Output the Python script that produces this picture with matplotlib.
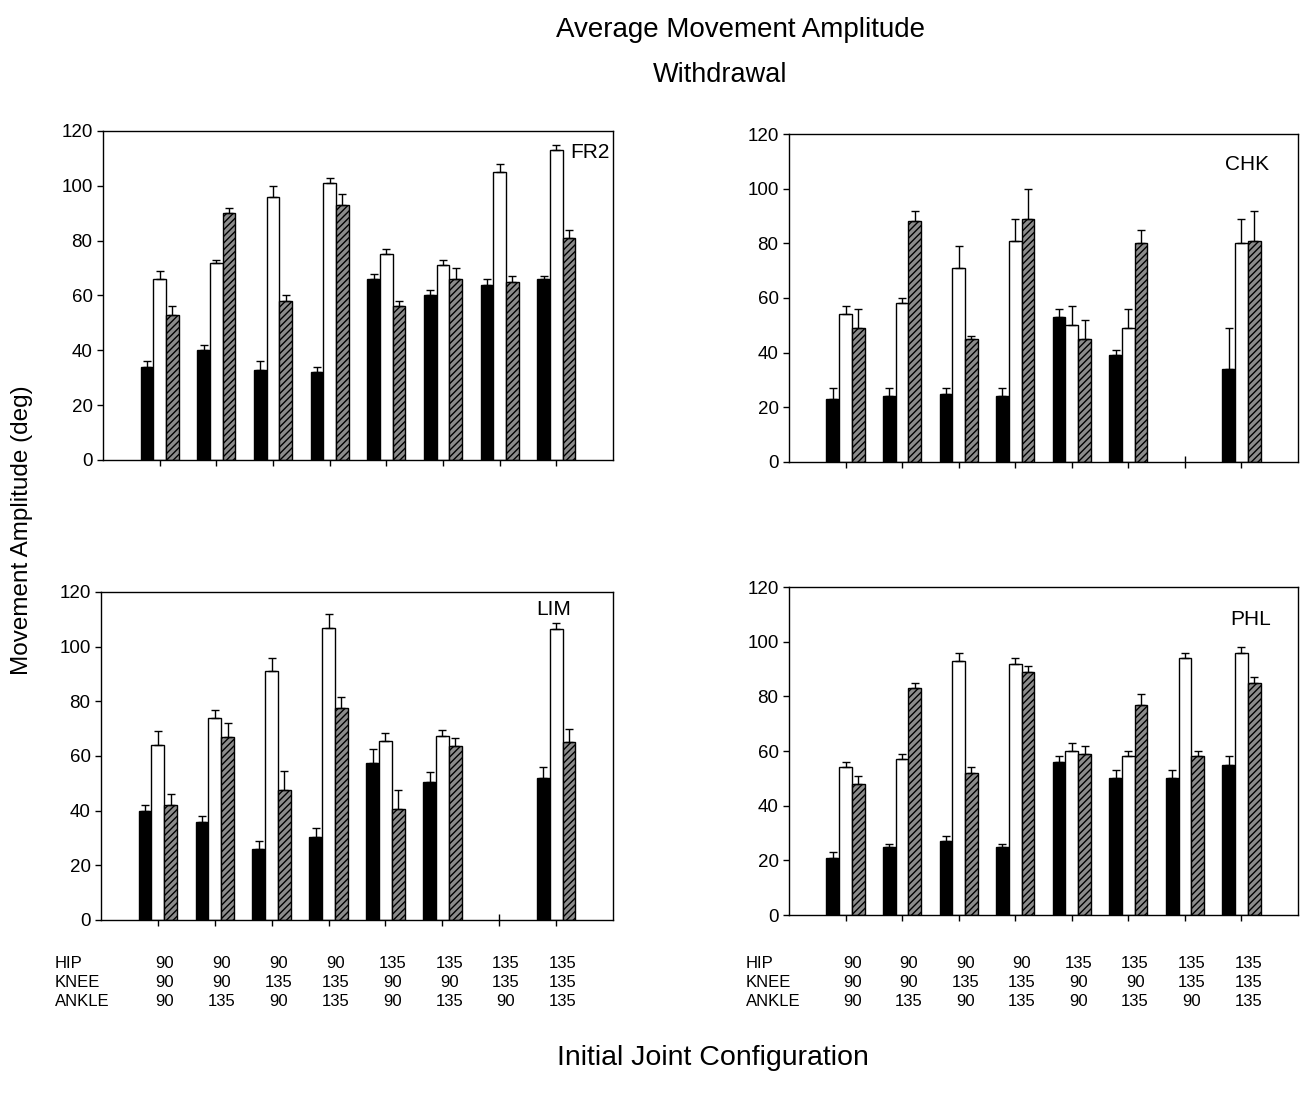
import numpy as np
import matplotlib.pyplot as plt
from matplotlib.transforms import blended_transform_factory

plt.rcParams['font.family'] = ['Liberation Sans', 'DejaVu Sans']
plt.rcParams['hatch.linewidth'] = 1.0

# initial joint configuration (deg)
hip = ['90', '90', '90', '90', '135', '135', '135', '135']
knee = ['90', '90', '135', '135', '90', '90', '135', '135']
ankle = ['90', '135', '90', '135', '90', '135', '90', '135']

nan = np.nan

# FR2
fr2_black = [34, 40, 33, 32, 66, 60, 64, 66]
fr2_black_err = [2, 2, 3, 2, 2, 2, 2, 1]
fr2_white = [66, 72, 96, 101, 75, 71, 105, 113]
fr2_white_err = [3, 1, 4, 2, 2, 2, 3, 2]
fr2_hatch = [53, 90, 58, 93, 56, 66, 65, 81]
fr2_hatch_err = [3, 2, 2, 4, 2, 4, 2, 3]

# CHK
chk_black = [23, 24, 25, 24, 53, 39, nan, 34]
chk_black_err = [4, 3, 2, 3, 3, 2, nan, 15]
chk_white = [54, 58, 71, 81, 50, 49, nan, 80]
chk_white_err = [3, 2, 8, 8, 7, 7, nan, 9]
chk_hatch = [49, 88, 45, 89, 45, 80, nan, 81]
chk_hatch_err = [7, 4, 1, 11, 7, 5, nan, 11]

# LIM
lim_black = [40, 36, 26, 30.5, 57.5, 50.5, nan, 52]
lim_black_err = [2, 2, 3, 3, 5, 3.5, nan, 4]
lim_white = [64, 74, 91, 107, 65.5, 67.5, nan, 106.5]
lim_white_err = [5, 3, 5, 5, 3, 2, nan, 2]
lim_hatch = [42, 67, 47.5, 77.5, 40.5, 63.5, nan, 65]
lim_hatch_err = [4, 5, 7, 4, 7, 3, nan, 5]

# PHL
phl_black = [21, 25, 27, 25, 56, 50, 50, 55]
phl_black_err = [2, 1, 2, 1, 2, 3, 3, 3]
phl_white = [54, 57, 93, 92, 60, 58, 94, 96]
phl_white_err = [2, 2, 3, 2, 3, 2, 2, 2]
phl_hatch = [48, 83, 52, 89, 59, 77, 58, 85]
phl_hatch_err = [3, 2, 2, 2, 3, 4, 2, 2]

panels = [
    ('FR2', fr2_black, fr2_black_err, fr2_white, fr2_white_err, fr2_hatch, fr2_hatch_err, (7.6, 112)),
    ('CHK', chk_black, chk_black_err, chk_white, chk_white_err, chk_hatch, chk_hatch_err, (7.1, 109)),
    ('LIM', lim_black, lim_black_err, lim_white, lim_white_err, lim_hatch, lim_hatch_err, (6.95, 113.5)),
    ('PHL', phl_black, phl_black_err, phl_white, phl_white_err, phl_hatch, phl_hatch_err, (7.17, 108)),
]

W, H = 1300, 1098
boxes = [(103, 613, 131, 460), (789, 1298, 134, 462),
         (101, 613, 592, 920), (789, 1298, 587, 915)]

fig = plt.figure(figsize=(W / 100, H / 100), dpi=100)

x = np.arange(8)
bw = 0.225

axes = []
for (name, bk, bke, wh, whe, ht, hte, lab), (l, r, t, b) in zip(panels, boxes):
    ax = fig.add_axes([l / W, 1 - b / H, (r - l) / W, (b - t) / H])
    axes.append(ax)
    series = [(x - bw, bk, bke, dict(color='black', edgecolor='black')),
              (x, wh, whe, dict(color='white', edgecolor='black')),
              (x + bw, ht, hte, dict(facecolor='#8c8c8c', edgecolor='black', hatch='/////'))]
    for xs, vals, errs, style in series:
        vals = np.array(vals, dtype=float)
        errs = np.array(errs, dtype=float)
        ax.bar(xs, vals, bw, linewidth=1.0, zorder=2, **style)
        ax.errorbar(xs, vals, yerr=[np.zeros_like(errs), errs], fmt='none',
                    ecolor='black', elinewidth=1.0, capsize=3, capthick=1.0, zorder=3)
    ax.set_xlim(-1, 8)
    ax.set_ylim(0, 120)
    ax.set_yticks(range(0, 121, 20))
    ax.set_xticks(x)
    ax.set_xticklabels([])
    ax.tick_params(axis='x', direction='inout', length=8, width=1)
    ax.tick_params(axis='y', direction='out', length=4, width=1, labelsize=13.5)
    for s in ax.spines.values():
        s.set_linewidth(1.0)
    ax.text(lab[0], lab[1], name, ha='center', va='center', fontsize=15)

# configuration table beneath the lower panels
for ax, lx in [(axes[2], 55), (axes[3], 746)]:
    trans = blended_transform_factory(ax.transData, fig.transFigure)
    for row, (lbl, vals) in enumerate([('HIP', hip), ('KNEE', knee), ('ANKLE', ankle)]):
        yf = 1 - (963 + row * 19.5) / H
        fig.text(lx / W, yf, lbl, ha='left', va='center', fontsize=12)
        for i, v in enumerate(vals):
            ax.text(i + 0.12, yf, v, ha='center', va='center', fontsize=12, transform=trans)

fig.text(741 / W, 1 - 30 / H, 'Average Movement Amplitude', ha='center', va='center', fontsize=20)
fig.text(720 / W, 1 - 75 / H, 'Withdrawal', ha='center', va='center', fontsize=19.5)
fig.text(22 / W, 1 - 530 / H, 'Movement Amplitude (deg)', ha='center', va='center',
         rotation=90, fontsize=17.5)
fig.text(713 / W, 1 - 1058 / H, 'Initial Joint Configuration', ha='center', va='center', fontsize=20.5)

fig.savefig('out.png', dpi=100)
